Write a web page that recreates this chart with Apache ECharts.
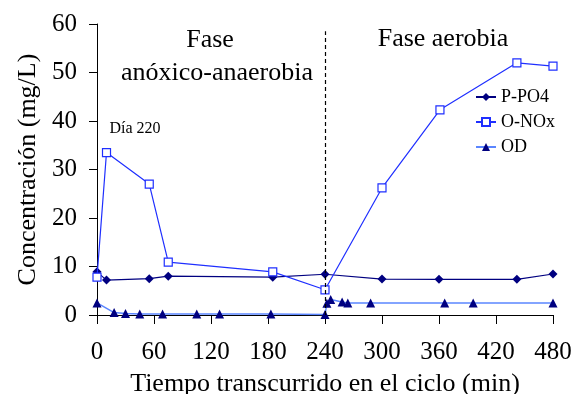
<!DOCTYPE html>
<html>
<head>
<meta charset="utf-8">
<script src="https://cdn.jsdelivr.net/npm/echarts@6/dist/echarts.min.js"></script>
<style>html,body{margin:0;padding:0;background:#fff}#c{width:573px;height:394px}</style>
</head>
<body>
<div id="c"></div>
<script>
var xTicks = [0, 60, 120, 180, 240, 300, 360, 420, 480];
var yTicks = [0, 10, 20, 30, 40, 50, 60];

var pX = [0, 10, 55, 75, 185, 240, 300, 360, 442, 480];
var pY = [8.9, 7.2, 7.5, 8.0, 7.8, 8.4, 7.4, 7.35, 7.35, 8.45];

var nX = [0, 10, 55, 75, 185, 240, 300, 361, 442, 480];
var nY = [7.8, 33.5, 27.0, 10.9, 8.9, 5.2, 26.2, 42.3, 52.0, 51.3];

var oX = [0, 18, 30, 45, 69, 105, 129, 183, 240, 242, 246, 258, 264, 288, 366, 396, 480];
var oY = [2.5, 0.5, 0.3, 0.2, 0.2, 0.2, 0.2, 0.2, 0.1, 2.4, 3.2, 2.7, 2.5, 2.5, 2.5, 2.5, 2.5];

function pairs(xs, ys) { return xs.map(function (x, i) { return [x, ys[i]]; }); }

var F = '"Liberation Serif", "Times New Roman", serif';
var chart = echarts.init(document.getElementById('c'));
chart.setOption({
  animation: false,
  textStyle: { fontFamily: F },
  grid: { left: 97, right: 20, top: 24, bottom: 79, containLabel: false, outerBoundsMode: 'none' },
  legend: {
    orient: 'vertical', left: 475, top: 88, padding: 0, itemGap: 7, itemWidth: 20, itemHeight: 10,
    textStyle: { fontFamily: F, fontSize: 18, color: '#000' },
    data: ['P-PO4', 'O-NOx', 'OD']
  },
  xAxis: {
    type: 'value', min: 0, max: 480, interval: 60,
    axisLine: { lineStyle: { color: '#000', width: 1 } },
    axisTick: { length: 9, lineStyle: { color: '#000' } },
    axisLabel: { fontFamily: F, fontSize: 25, color: '#000', margin: 25 },
    splitLine: { show: false },
    name: 'Tiempo transcurrido en el ciclo (min)', nameLocation: 'middle', nameGap: 56,
    nameTextStyle: { fontFamily: F, fontSize: 26, color: '#000', verticalAlign: 'top' }
  },
  yAxis: {
    type: 'value', min: 0, max: 60, interval: 10,
    axisLine: { show: true, lineStyle: { color: '#000', width: 1 } },
    axisTick: { show: true, length: 8, lineStyle: { color: '#000' } },
    axisLabel: { fontFamily: F, fontSize: 25, color: '#000', margin: 20 },
    splitLine: { show: false },
    name: 'Concentración (mg/L)', nameLocation: 'middle', nameGap: 54,
    nameTextStyle: { fontFamily: F, fontSize: 26, color: '#000' }
  },
  graphic: [
    { type: 'text', x: 210, y: 40, style: { text: 'Fase', font: '26px ' + F, fill: '#000', align: 'center', verticalAlign: 'middle' } },
    { type: 'text', x: 217, y: 73, style: { text: 'anóxico-anaerobia', font: '26px ' + F, fill: '#000', align: 'center', verticalAlign: 'middle' } },
    { type: 'text', x: 443, y: 39, style: { text: 'Fase aerobia', font: '26px ' + F, fill: '#000', align: 'center', verticalAlign: 'middle' } },
    { type: 'text', x: 135, y: 129, style: { text: 'Día 220', font: '16px ' + F, fill: '#000', align: 'center', verticalAlign: 'middle' } }
  ],
  series: [
    {
      name: 'P-PO4', type: 'line', data: pairs(pX, pY),
      symbol: 'diamond', symbolSize: 9,
      lineStyle: { color: '#000080', width: 1.2 },
      itemStyle: { color: '#000080' }, z: 3,
      markLine: {
        silent: true, symbol: 'none', label: { show: false },
        lineStyle: { color: '#000', type: [4, 3], width: 1.2 },
        data: [[{ coord: [240, 0] }, { coord: [240, 58.5] }]]
      }
    },
    {
      name: 'O-NOx', type: 'line', data: pairs(nX, nY),
      symbol: 'rect', symbolSize: 8,
      lineStyle: { color: '#1f2fff', width: 1.2 },
      itemStyle: { color: '#fff', borderColor: '#1f2fff', borderWidth: 1.2 }, z: 4
    },
    {
      name: 'OD', type: 'line', data: pairs(oX, oY),
      symbol: 'triangle', symbolSize: 9,
      lineStyle: { color: '#5b86ff', width: 1.5 },
      itemStyle: { color: '#000080' }, z: 2
    }
  ]
});
</script>
</body>
</html>
